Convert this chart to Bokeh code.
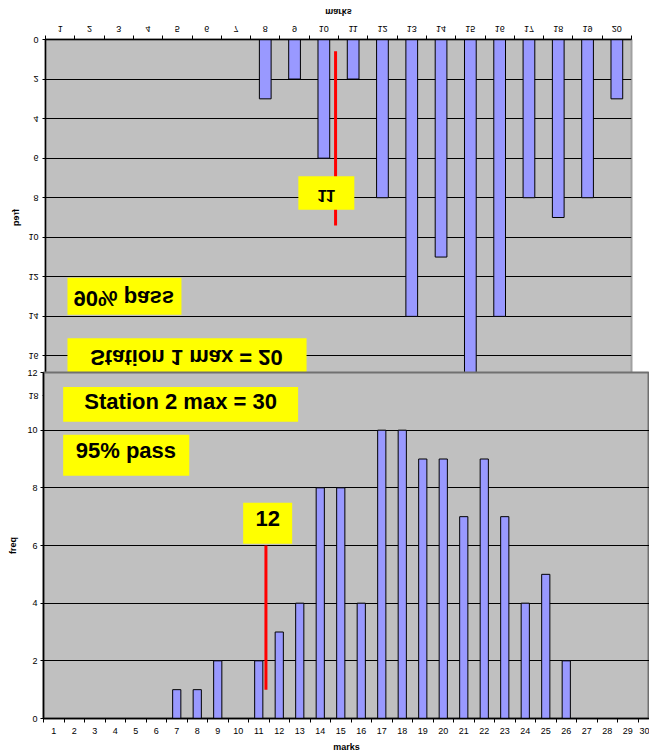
from bokeh.plotting import figure
from bokeh.models import Range1d, FixedTicker, BoxAnnotation, Label
from bokeh.layouts import column
from bokeh.embed import file_html
from bokeh.resources import INLINE

# ---------------- data ----------------
marks1 = list(range(1, 21))
freq1 = [0, 0, 0, 0, 0, 0, 0, 3, 2, 6, 2, 8, 14, 11, 17, 14, 8, 9, 8, 3]
marks2 = list(range(1, 31))
freq2 = [0, 0, 0, 0, 0, 0, 1, 1, 2, 0, 2, 3, 4, 8, 8, 4, 10, 10, 9, 9,
         7, 9, 7, 4, 5, 2, 0, 0, 0, 0]
yticks1 = [0, 2, 4, 6, 8, 10, 12, 14, 16, 18]
yticks2 = [0, 2, 4, 6, 8, 10, 12]

# pass-mark indicators (position on the marks axis, vertical extent in freq)
pass1_x = 10.4
pass1_y = (0.6, 9.4)
pass1_label = "11"
pass2_x = 11.35
pass2_y = (1.0, 6.0)
pass2_label = "12"

FONT = "Liberation Sans"
GRAY = "#C0C0C0"
BAR = "#9999FF"
YELLOW = "#FFFF00"


def style(p, n, yticks):
    p.background_fill_color = GRAY
    p.xgrid.visible = False
    p.ygrid.ticker = FixedTicker(ticks=yticks)
    p.ygrid.grid_line_color = "black"
    p.ygrid.grid_line_width = 1
    xa = p.xaxis[0]
    xa.ticker = FixedTicker(ticks=list(range(1, n + 1)),
                            minor_ticks=[k + 0.5 for k in range(0, n + 1)])
    xa.major_tick_out = 4
    xa.major_tick_in = 0
    xa.minor_tick_out = 4
    xa.minor_tick_in = 0
    xa.minor_tick_line_color = "black"
    xa.major_label_standoff = 5
    xa.axis_label = "marks"
    xa.axis_label_standoff = 5
    ya = p.yaxis[0]
    ya.ticker = FixedTicker(ticks=yticks)
    ya.major_tick_out = 3
    ya.major_tick_in = 0
    ya.minor_tick_line_color = None
    ya.major_label_standoff = 3
    ya.axis_label = "freq"
    ya.axis_label_standoff = 6
    for a in (xa, ya):
        a.axis_line_color = "black"
        a.axis_line_width = 1.5
        a.major_tick_line_color = "black" if a is ya else None
        a.major_label_text_font = FONT
        a.major_label_text_font_size = "9px"
        a.major_label_text_color = "black"
        a.axis_label_text_font = FONT
        a.axis_label_text_font_size = "9px"
        a.axis_label_text_font_style = "bold"
        a.axis_label_text_color = "black"


def note(p, text, box, center, size="22px"):
    left, right, bottom, top = box
    p.add_layout(BoxAnnotation(left=left, right=right, bottom=bottom, top=top,
                               fill_color=YELLOW, fill_alpha=1, line_color=None))
    p.add_layout(Label(x=center[0], y=center[1], text=text,
                       text_align="center", text_baseline="middle",
                       text_font=FONT, text_font_style="bold",
                       text_font_size=size, text_color="black"))


# ---------------- Station 1 (drawn mirrored top-to-bottom) ----------------
p1 = figure(width=649, height=410, output_backend="svg", toolbar_location=None,
            x_range=Range1d(0.5, 20.5), y_range=Range1d(0, 18),
            min_border_left=45, min_border_right=18,
            min_border_top=14, min_border_bottom=40)
p1.frame_align = False
style(p1, 20, yticks1)
p1.xaxis[0].major_label_standoff = 4
p1.xaxis[0].axis_label_standoff = 6
p1.yaxis[0].major_label_standoff = 4
p1.yaxis[0].axis_label_standoff = 4
p1.outline_line_color = "#A0A0A0"
p1.outline_line_width = 2
p1.vbar(x=marks1, top=freq1, width=0.4, fill_color=BAR, line_color="black",
        line_width=1)
p1.segment(x0=[pass1_x], y0=[pass1_y[0]], x1=[pass1_x], y1=[pass1_y[1]],
           line_color="red", line_width=3)
note(p1, "Station 1 max = 20", (1.25, 9.41, 15.1, 17.0), (5.31, 16.08))
note(p1, "90% pass", (1.25, 5.14, 12.05, 13.92), (3.17, 13.1))
note(p1, pass1_label, (9.13, 11.04, 6.92, 8.61), (10.08, 7.9), size="17px")
p1.styles = {"transform": "scaleY(-1)"}

# ---------------- Station 2 ----------------
p2 = figure(width=649, height=391, output_backend="svg", toolbar_location=None,
            x_range=Range1d(0.5, 30.06), y_range=Range1d(0, 12),
            min_border_left=43, min_border_right=0,
            min_border_top=8, min_border_bottom=37)
p2.frame_align = False
style(p2, 30, yticks2)
p2.border_fill_color = None
p2.outline_line_color = "#707070"
p2.outline_line_width = 2
p2.vbar(x=marks2, top=freq2, width=0.4, fill_color=BAR, line_color="black",
        line_width=1)
p2.segment(x0=[pass2_x], y0=[pass2_y[0]], x1=[pass2_x], y1=[pass2_y[1]],
           line_color="red", line_width=3)
note(p2, "Station 2 max = 30", (1.46, 12.92, 10.29, 11.5), (7.19, 11.0))
note(p2, "95% pass", (1.46, 7.61, 8.42, 9.84), (4.52, 9.3))
note(p2, pass2_label, (10.24, 12.63, 6.06, 7.48), (11.44, 6.93))
p2.styles = {"margin-top": "-46px", "position": "relative", "z-index": "1"}

root = column(p1, p2, spacing=0)

open("out.html", "w").write(file_html(root, INLINE))
